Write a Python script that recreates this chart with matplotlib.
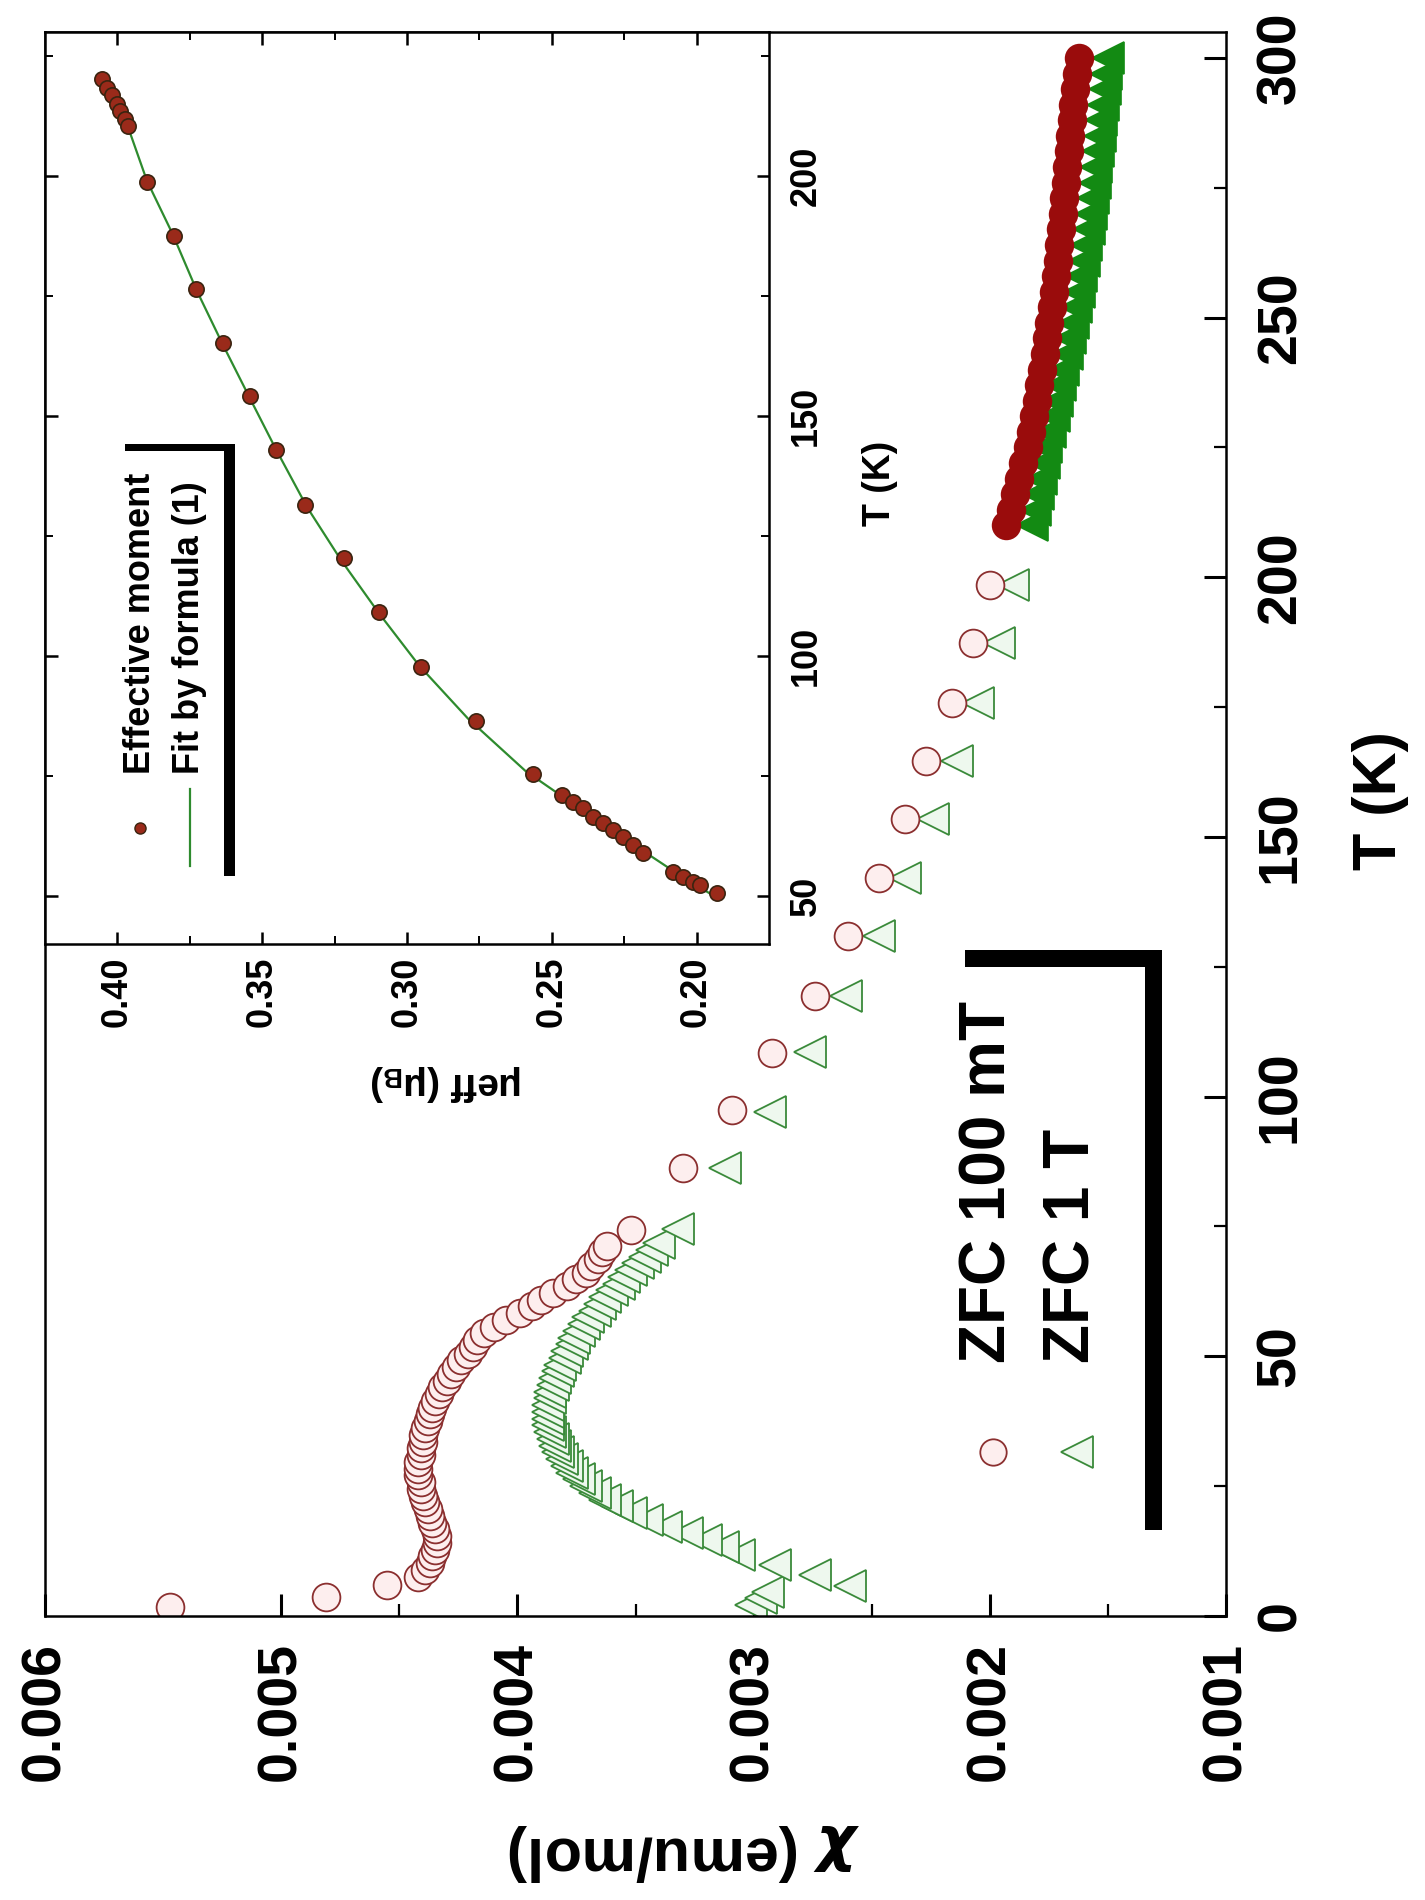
import matplotlib
matplotlib.use('Agg')
import matplotlib.pyplot as plt
from matplotlib.patches import Rectangle
from matplotlib.lines import Line2D

plt.rcParams['font.family'] = ['Liberation Sans', 'DejaVu Sans']
plt.rcParams['font.weight'] = 'bold'
plt.rcParams['axes.labelweight'] = 'bold'
plt.rcParams['mathtext.default'] = 'it'

W, H = 1425, 1900

# ---- main panel data: ZFC susceptibility (T in K, chi in emu/mol)
t_100mT = [1.8, 3.7, 6.0, 7.6, 8.9, 10.2, 11.5, 12.8, 14.1, 15.4, 16.7, 18.0, 19.3, 20.6,
           21.9, 23.2, 24.5, 25.8, 27.1, 28.4, 29.7, 31.0, 32.3, 33.6, 34.9, 36.2, 37.5,
           38.8, 40.1, 41.4, 42.7, 44.0, 45.3, 46.6, 47.9, 49.2, 50.5, 51.8, 53.1, 54.4,
           55.7, 57.0, 58.3, 59.6, 60.9, 62.2, 63.5, 64.8, 66.1, 67.4, 68.7, 70.0, 71.2,
           74.3, 86.2, 97.4, 108.4, 119.4, 130.9, 142.1, 153.5, 164.6, 175.8, 187.4, 198.5]
chi_100mT = [0.00547, 0.00481, 0.00455, 0.00442, 0.00439, 0.00437, 0.00436, 0.00435, 0.00434,
             0.00434, 0.00435, 0.00436, 0.00437, 0.00438, 0.00439, 0.00440, 0.00441, 0.00441,
             0.00442, 0.00442, 0.00442, 0.00441, 0.00441, 0.00440, 0.00440, 0.00439, 0.00438,
             0.00437, 0.00436, 0.00435, 0.00433, 0.00432, 0.00430, 0.00428, 0.00426, 0.00424,
             0.00421, 0.00419, 0.00417, 0.00414, 0.00410, 0.00405, 0.00399, 0.00394, 0.00390,
             0.00385, 0.00379, 0.00375, 0.00371, 0.00369, 0.00366, 0.00364, 0.00362, 0.00352,
             0.00330, 0.00309, 0.00292, 0.00274, 0.00260, 0.00247, 0.00236, 0.00227, 0.00216,
             0.00207, 0.00200]

t_1T = [2.2, 3.4, 4.6, 5.8, 7.8, 9.8, 11.8, 13.2, 14.6, 15.9, 17.2, 18.5, 19.8, 21.1, 22.4,
        23.7, 25.0, 26.3, 27.6, 28.9, 30.2, 31.5, 32.8, 34.1, 35.4, 36.7, 38.0, 39.3, 40.6,
        41.9, 43.2, 44.5, 45.8, 47.1, 48.4, 49.7, 51.0, 52.3, 53.6, 54.9, 56.2, 57.5, 58.8,
        60.1, 61.4, 62.7, 64.0, 65.3, 66.6, 67.9, 69.2, 70.5, 71.8, 74.5, 86.2, 97.1, 108.6,
        119.4, 130.9, 142.1, 153.5, 164.6, 175.8, 187.4, 198.5]
chi_1T = [0.00301, 0.00297, 0.00294, 0.00259, 0.00274, 0.00291, 0.00306, 0.00313, 0.00320,
          0.00328, 0.00337, 0.00345, 0.00352, 0.00358, 0.00363, 0.00367, 0.00371, 0.00374,
          0.00377, 0.00379, 0.00381, 0.00383, 0.00384, 0.00385, 0.00386, 0.00387, 0.00387,
          0.00387, 0.00387, 0.00386, 0.00386, 0.00385, 0.00384, 0.00383, 0.00382, 0.00380,
          0.00379, 0.00377, 0.00376, 0.00374, 0.00372, 0.00370, 0.00367, 0.00365, 0.00363,
          0.00360, 0.00357, 0.00355, 0.00352, 0.00349, 0.00346, 0.00343, 0.00340, 0.00332,
          0.00312, 0.00293, 0.00276, 0.00261, 0.00247, 0.00236, 0.00224, 0.00214, 0.00205,
          0.00196, 0.00190]

# dense high temperature runs (points overlap into solid bands)
t_dense = [210, 213, 216, 219, 222, 225, 228, 231, 234, 237, 240, 243, 246, 249, 252, 255,
           258, 261, 264, 267, 270, 273, 276, 279, 282, 285, 288, 291, 294, 297, 300]
chi_100mT_dense = [0.001930, 0.001912, 0.001894, 0.001876, 0.001858, 0.001840, 0.001827,
                   0.001814, 0.001802, 0.001790, 0.001779, 0.001768, 0.001758, 0.001748,
                   0.001738, 0.001729, 0.001721, 0.001713, 0.001705, 0.001698, 0.001691,
                   0.001684, 0.001678, 0.001672, 0.001666, 0.001660, 0.001653, 0.001646,
                   0.001638, 0.001630, 0.001622]
chi_1T_dense = [0.001820, 0.001808, 0.001796, 0.001784, 0.001772, 0.001760, 0.001745,
                0.001730, 0.001716, 0.001702, 0.001688, 0.001674, 0.001661, 0.001648,
                0.001636, 0.001624, 0.001613, 0.001602, 0.001592, 0.001582, 0.001573,
                0.001564, 0.001556, 0.001549, 0.001542, 0.001535, 0.001528, 0.001521,
                0.001514, 0.001507, 0.001500]

chi_ticks = [0.006, 0.005, 0.004, 0.003, 0.002, 0.001]
chi_labels = ['0.006', '0.005', '0.004', '0.003', '0.002', '0.001']
chi_minor = [0.0055, 0.0045, 0.0035, 0.0025, 0.0015]
t_ticks = [0, 50, 100, 150, 200, 250, 300]
t_minor = [25, 75, 125, 175, 225, 275]

# ---- inset data: effective moment
t_eff = [220.3, 218.4, 216.9, 215.0, 213.6, 211.9, 210.5, 198.8, 187.6, 176.4, 165.2, 154.1,
         142.9, 131.4, 120.5, 109.2, 97.8, 86.4, 75.4, 71.1, 69.6, 68.4, 66.5, 65.2, 63.8,
         62.3, 60.7, 59.0, 55.0, 54.0, 52.9, 52.3, 50.6]
mu_eff = [0.4053, 0.4036, 0.4019, 0.4001, 0.3991, 0.3974, 0.3965, 0.3898, 0.3806, 0.3727,
          0.3635, 0.3542, 0.3454, 0.3352, 0.3217, 0.3095, 0.2953, 0.2762, 0.2566, 0.2464,
          0.2426, 0.2392, 0.2357, 0.2323, 0.2288, 0.2253, 0.2219, 0.2184, 0.2081, 0.2046,
          0.2011, 0.1987, 0.1929]
t_fit = [211, 199, 188, 176, 165, 154, 143, 131, 120, 109, 98, 87, 76, 71, 65, 60, 55, 50]
mu_fit = [0.3968, 0.3898, 0.3810, 0.3725, 0.3637, 0.3545, 0.3452, 0.3345, 0.3228, 0.3098,
          0.2958, 0.2790, 0.2590, 0.2470, 0.2325, 0.2200, 0.2075, 0.1940]

mu_ticks = [0.40, 0.35, 0.30, 0.25, 0.20]
mu_labels = ['0.40', '0.35', '0.30', '0.25', '0.20']
mu_minor = [0.375, 0.325, 0.275, 0.225]
ti_ticks = [50, 100, 150, 200]
ti_minor = [75, 125, 175, 225]

RED_E, RED_F, RED_S = '#8b2f2f', '#fdeeee', '#9a0c0c'
GRN_E, GRN_F, GRN_S = '#3a8a3a', '#eef8ee', '#138a13'


def fx(px):
    return px / W


def fy(py):
    return 1 - py / H


fig = plt.figure(figsize=(W / 100, H / 100), dpi=100)

# whole figure is turned 90 degrees: chi runs along x (inverted), T along y
ax = fig.add_axes([fx(45), fy(1616), 1181 / W, 1584 / H])
ax.plot(chi_1T_dense, t_dense, ls='none', marker='<', ms=23, mfc=GRN_S, mec=GRN_S, mew=1.2)
ax.plot(chi_100mT_dense, t_dense, ls='none', marker='o', ms=20, mfc=RED_S, mec=RED_S, mew=1.2)
ax.plot(chi_1T, t_1T, ls='none', marker='<', ms=23, mfc=GRN_F, mec=GRN_E, mew=1.3)
ax.plot(chi_100mT, t_100mT, ls='none', marker='o', ms=20, mfc=RED_F, mec=RED_E, mew=1.3)

ax.set_xlim(0.006, 0.001)
ax.set_ylim(0, 305)
ax.set_xticks(chi_ticks)
ax.set_xticklabels(chi_labels)
ax.set_xticks(chi_minor, minor=True)
ax.set_yticks(t_ticks)
ax.set_yticks(t_minor, minor=True)
ax.yaxis.tick_right()
ax.tick_params(axis='both', which='both', direction='in', labelsize=40, labelrotation=90)
ax.tick_params(axis='x', which='both', top=False, bottom=True, pad=19)
ax.tick_params(axis='y', which='both', left=False, right=True, labelleft=False,
               labelright=True, pad=21)
ax.tick_params(which='major', length=16, width=2.2)
ax.tick_params(which='minor', length=8.5, width=1.6)
for lab in ax.get_yticklabels():
    lab.set_va('center')
for s in ax.spines.values():
    s.set_linewidth(1.8)

ax.set_xlabel(r'$\chi$ (emu/mol)', fontsize=44, rotation=180, ha='center', va='center')
ax.xaxis.set_label_coords(0.541, -0.1496)
ax.yaxis.set_label_position('right')
ax.set_ylabel('T (K)', fontsize=44, rotation=90, ha='center', va='center')
ax.yaxis.set_label_coords(1.1304, 0.515)

# legend of the main panel (drawn by hand, text turned with the plot)
fig.text(fx(988), fy(1363), 'ZFC 100 mT', fontsize=46, rotation=90,
         rotation_mode='anchor', ha='left', va='center')
fig.text(fx(1073), fy(1363), 'ZFC 1 T', fontsize=46, rotation=90,
         rotation_mode='anchor', ha='left', va='center')
fig.add_artist(Line2D([fx(993)], [fy(1452)], transform=fig.transFigure, marker='o', ms=19,
                      mfc=RED_F, mec=RED_E, mew=1.3, ls='none'))
fig.add_artist(Line2D([fx(1077)], [fy(1452)], transform=fig.transFigure, marker='<', ms=23,
                      mfc=GRN_F, mec=GRN_E, mew=1.3, ls='none'))
fig.add_artist(Rectangle((fx(965), fy(967)), 197 / W, 17 / H, transform=fig.transFigure,
                         color='black', lw=0))
fig.add_artist(Rectangle((fx(1145), fy(1530)), 17 / W, 580 / H, transform=fig.transFigure,
                         color='black', lw=0))

# ---- inset: effective moment vs T
axin = fig.add_axes([fx(45), fy(944), 724 / W, 912 / H])
axin.plot(mu_fit, t_fit, color='#2e8b2e', lw=1.6, zorder=2)
axin.plot(mu_eff, t_eff, ls='none', marker='o', ms=11, mfc='#9a2a1a', mec='#3a2410',
          mew=1.2, zorder=3)
axin.set_xlim(0.425, 0.175)
axin.set_ylim(40, 230)
axin.set_xticks(mu_ticks)
axin.set_xticklabels(mu_labels)
axin.set_xticks(mu_minor, minor=True)
axin.set_yticks(ti_ticks)
axin.set_yticks(ti_minor, minor=True)
axin.yaxis.tick_right()
axin.tick_params(axis='both', which='both', direction='in', labelsize=26, labelrotation=90,
                 top=True, bottom=True, left=True, right=True)
axin.tick_params(axis='x', which='both', pad=9)
axin.tick_params(axis='y', which='both', labelleft=False, labelright=True, pad=14)
axin.tick_params(which='major', length=9, width=1.8)
axin.tick_params(which='minor', length=6, width=1.4)
for lab in axin.get_yticklabels():
    lab.set_va('center')
for s in axin.spines.values():
    s.set_linewidth(1.8)

axin.set_xlabel(r'μeff (μ$_{\mathregular{B}}$)', fontsize=28, rotation=180,
                ha='center', va='center')
axin.xaxis.set_label_coords(0.554, -0.1524)
axin.yaxis.set_label_position('right')
axin.set_ylabel('T (K)', fontsize=27, rotation=90, ha='center', va='center')
axin.yaxis.set_label_coords(1.1533, 0.5055)

# inset legend
fig.text(fx(141), fy(774), 'Effective moment', fontsize=26, rotation=90,
         rotation_mode='anchor', ha='left', va='center')
fig.text(fx(189), fy(774), 'Fit by formula (1)', fontsize=26, rotation=90,
         rotation_mode='anchor', ha='left', va='center')
fig.add_artist(Line2D([fx(140)], [fy(828)], transform=fig.transFigure, marker='o', ms=8,
                      mfc='#9a2a1a', mec='#3a2410', mew=1.0, ls='none'))
fig.add_artist(Line2D([fx(190), fx(190)], [fy(789), fy(866)], transform=fig.transFigure,
                      color='#2e8b2e', lw=1.6))
fig.add_artist(Rectangle((fx(125), fy(451)), 110 / W, 7 / H, transform=fig.transFigure,
                         color='black', lw=0))
fig.add_artist(Rectangle((fx(224), fy(876)), 11 / W, 432 / H, transform=fig.transFigure,
                         color='black', lw=0))

fig.savefig('out.png', dpi=100)
